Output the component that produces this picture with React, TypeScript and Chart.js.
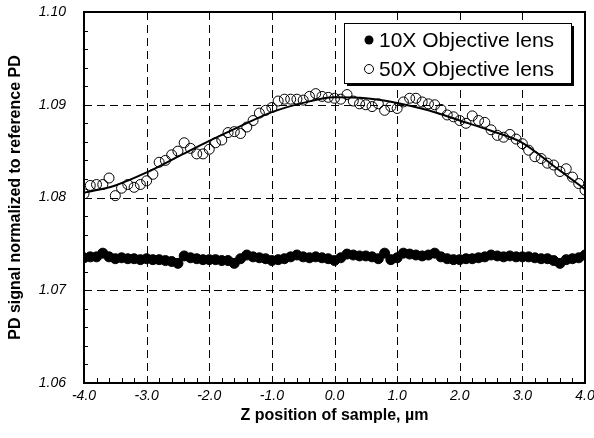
import React, { useEffect, useRef } from "react";
import { Chart, registerables } from "chart.js";

Chart.register(...registerables);

// Z positions of the sample (µm)
const zPositions = [
  -4.0, -3.9, -3.8, -3.7, -3.6, -3.5, -3.4, -3.3, -3.2, -3.1,
  -3.0, -2.9, -2.8, -2.7, -2.6, -2.5, -2.4, -2.3, -2.2, -2.1,
  -2.0, -1.9, -1.8, -1.7, -1.6, -1.5, -1.4, -1.3, -1.2, -1.1,
  -1.0, -0.9, -0.8, -0.7, -0.6, -0.5, -0.4, -0.3, -0.2, -0.1,
  0.0, 0.1, 0.2, 0.3, 0.4, 0.5, 0.6, 0.7, 0.8, 0.9,
  1.0, 1.1, 1.2, 1.3, 1.4, 1.5, 1.6, 1.7, 1.8, 1.9,
  2.0, 2.1, 2.2, 2.3, 2.4, 2.5, 2.6, 2.7, 2.8, 2.9,
  3.0, 3.1, 3.2, 3.3, 3.4, 3.5, 3.6, 3.7, 3.8, 3.9,
  4.0,
];

// 10X objective lens (filled circles)
const lens10X = [
  1.0735, 1.0736, 1.0736, 1.0740, 1.0736, 1.0734, 1.0735, 1.0734, 1.0734, 1.0733,
  1.0734, 1.0733, 1.0733, 1.0732, 1.0731, 1.0729, 1.0737, 1.0735, 1.0734, 1.0733,
  1.0733, 1.0733, 1.0732, 1.0732, 1.0729, 1.0734, 1.0738, 1.0736, 1.0735, 1.0734,
  1.0732, 1.0733, 1.0734, 1.0736, 1.0738, 1.0736, 1.0735, 1.0736, 1.0735, 1.0734,
  1.0732, 1.0735, 1.0739, 1.0738, 1.0737, 1.0737, 1.0736, 1.0734, 1.0740, 1.0733,
  1.0735, 1.0740, 1.0739, 1.0738, 1.0737, 1.0738, 1.0740, 1.0736, 1.0734, 1.0733,
  1.0733, 1.0734, 1.0734, 1.0735, 1.0736, 1.0738, 1.0737, 1.0736, 1.0737, 1.0736,
  1.0736, 1.0736, 1.0735, 1.0734, 1.0734, 1.0732, 1.0729, 1.0733, 1.0734, 1.0735,
  1.0738,
];

// 50X objective lens (open circles)
const lens50X = [
  1.0804, 1.0813, 1.0814, 1.0814, 1.0821, 1.0802, 1.0810, 1.0814, 1.0811, 1.0814,
  1.0818, 1.0825, 1.0838, 1.0840, 1.0846, 1.0850, 1.0859, 1.0853, 1.0847, 1.0847,
  1.0852, 1.0859, 1.0862, 1.0870, 1.0871, 1.0869, 1.0876, 1.0883, 1.0891, 1.0894,
  1.0897, 1.0904, 1.0906, 1.0906, 1.0906, 1.0905, 1.0909, 1.0912, 1.0909, 1.0908,
  1.0907, 1.0906, 1.0911, 1.0904, 1.0901, 1.0900, 1.0898, 1.0901, 1.0894, 1.0898,
  1.0896, 1.0903, 1.0907, 1.0907, 1.0903, 1.0901, 1.0900, 1.0895, 1.0889, 1.0887,
  1.0883, 1.0880, 1.0888, 1.0883, 1.0881, 1.0873, 1.0867, 1.0865, 1.0868, 1.0863,
  1.0858, 1.0851, 1.0844, 1.0842, 1.0837, 1.0835, 1.0828, 1.0831, 1.0822, 1.0815,
  1.0808,
];

// Fitted curve through the 50X data
const fitZ = [-4.0, -3.5, -3.0, -2.5, -2.0, -1.5, -1.0, -0.5, 0.0, 0.5, 1.0, 1.5, 2.0, 2.5, 3.0, 3.5, 4.0];
const fit50X = [
  1.0805, 1.0813, 1.0827, 1.0844, 1.0861, 1.0877, 1.0892, 1.0902, 1.0908,
  1.0907, 1.0902, 1.0894, 1.0883, 1.0872, 1.0859, 1.0834, 1.0809,
];

const xTicks = [-4, -3, -2, -1, 0, 1, 2, 3, 4];
const yTicks = [1.06, 1.07, 1.08, 1.09, 1.1];
const legendLabels = ["10X Objective lens", "50X Objective lens"];

const FONT = "'Liberation Sans', Arial, Helvetica, sans-serif";

const framePlugin = {
  id: "framePlugin",
  beforeDatasetsDraw(chart: any) {
    const { ctx, chartArea: a, scales } = chart;
    const xs = scales.x;
    const ys = scales.y;
    ctx.save();
    ctx.strokeStyle = "#000";
    ctx.lineWidth = 1;
    ctx.setLineDash([8, 5]);
    xTicks.slice(1, -1).forEach((v) => {
      const px = Math.round(xs.getPixelForValue(v)) + 0.5;
      ctx.beginPath();
      ctx.moveTo(px, a.top);
      ctx.lineTo(px, a.bottom);
      ctx.stroke();
    });
    yTicks.slice(1, -1).forEach((v) => {
      const py = Math.round(ys.getPixelForValue(v)) + 0.5;
      ctx.beginPath();
      ctx.moveTo(a.left, py);
      ctx.lineTo(a.right, py);
      ctx.stroke();
    });
    ctx.restore();
  },
  afterDatasetsDraw(chart: any) {
    const { ctx, chartArea: a, scales } = chart;
    const xs = scales.x;
    const ys = scales.y;
    ctx.save();
    ctx.setLineDash([]);
    ctx.strokeStyle = "#000";
    ctx.lineWidth = 1;
    for (let i = 0; i <= 40; i++) {
      const v = -4 + i * 0.2;
      const px = Math.round(xs.getPixelForValue(v)) + 0.5;
      ctx.beginPath();
      ctx.moveTo(px, a.bottom);
      ctx.lineTo(px, a.bottom - 5);
      ctx.stroke();
    }
    for (let i = 0; i <= 20; i++) {
      const v = 1.06 + i * 0.002;
      const py = Math.round(ys.getPixelForValue(v)) + 0.5;
      ctx.beginPath();
      ctx.moveTo(a.left, py);
      ctx.lineTo(a.left + 4, py);
      ctx.stroke();
    }
    ctx.lineWidth = 2;
    ctx.strokeRect(a.left, a.top, a.right - a.left, a.bottom - a.top);

    // legend
    const bx = 344, by = 23, bw = 227, bh = 60;
    ctx.fillStyle = "#000";
    ctx.fillRect(bx + 3, by + 3, bw, bh);
    ctx.fillStyle = "#fff";
    ctx.fillRect(bx, by, bw, bh);
    ctx.lineWidth = 1;
    ctx.strokeRect(bx + 0.5, by + 0.5, bw, bh);
    ctx.font = `21px ${FONT}`;
    ctx.textBaseline = "middle";
    ctx.textAlign = "left";
    ctx.fillStyle = "#000";
    const rows = [by + 17, by + 46];
    ctx.beginPath();
    ctx.arc(369, rows[0], 4.5, 0, Math.PI * 2);
    ctx.fill();
    ctx.fillText(legendLabels[0], 379, rows[0] + 1);
    ctx.beginPath();
    ctx.arc(369, rows[1], 4.5, 0, Math.PI * 2);
    ctx.fillStyle = "#fff";
    ctx.fill();
    ctx.stroke();
    ctx.fillStyle = "#000";
    ctx.fillText(legendLabels[1], 379, rows[1] + 1);
    ctx.restore();
  },
};

export default function App() {
  const canvasRef = useRef<HTMLCanvasElement | null>(null);

  useEffect(() => {
    if (!canvasRef.current) return;
    const pts10 = zPositions.map((z, i) => ({ x: z, y: lens10X[i] }));
    const pts50 = zPositions.map((z, i) => ({ x: z, y: lens50X[i] }));
    const ptsFit = fitZ.map((z, i) => ({ x: z, y: fit50X[i] }));

    const chart = new Chart(canvasRef.current, {
      type: "line",
      data: {
        datasets: [
          {
            label: "fit",
            data: ptsFit,
            borderColor: "#000",
            borderWidth: 2,
            pointRadius: 0,
            cubicInterpolationMode: "monotone",
            fill: false,
            order: 0,
          },
          {
            label: legendLabels[1],
            data: pts50,
            showLine: false,
            pointRadius: 5,
            pointBorderWidth: 1,
            pointBorderColor: "#000",
            pointBackgroundColor: "rgba(255,255,255,0)",
            order: 1,
          },
          {
            label: legendLabels[0],
            data: pts10,
            showLine: false,
            pointRadius: 5,
            pointBorderWidth: 1,
            pointBorderColor: "#000",
            pointBackgroundColor: "#000",
            order: 2,
          },
        ],
      },
      options: {
        animation: false,
        responsive: true,
        maintainAspectRatio: false,
        layout: { padding: { top: 12, right: 9, left: 0, bottom: 0 } },
        plugins: {
          legend: { display: false },
          tooltip: { enabled: false },
        },
        scales: {
          x: {
            type: "linear",
            min: -4,
            max: 4,
            afterBuildTicks: (s: any) => {
              s.ticks = xTicks.map((v) => ({ value: v }));
            },
            ticks: {
              callback: (v: any) => Number(v).toFixed(1),
              font: { family: FONT, size: 14, style: "italic" },
              color: "#000",
              padding: 5,
              maxRotation: 0,
              autoSkip: false,
            },
            grid: { display: false, drawTicks: false },
            border: { display: false },
            title: {
              display: true,
              text: "Z position of sample, µm",
              font: { family: FONT, size: 16, weight: "bold" },
              color: "#000",
              padding: { top: 0, bottom: 13 },
            },
            afterFit: (s: any) => {
              s.height = 55;
              s.paddingLeft = 0;
              s.paddingRight = 0;
            },
          },
          y: {
            type: "linear",
            min: 1.06,
            max: 1.1,
            afterBuildTicks: (s: any) => {
              s.ticks = yTicks.map((v) => ({ value: v }));
            },
            ticks: {
              callback: (v: any) => Number(v).toFixed(2),
              font: { family: FONT, size: 14, style: "italic" },
              color: "#000",
              padding: 18,
              autoSkip: false,
            },
            grid: { display: false, drawTicks: false },
            border: { display: false },
            title: {
              display: true,
              text: "PD signal normalized to reference PD",
              font: { family: FONT, size: 16, weight: "bold" },
              color: "#000",
              padding: { top: 6, bottom: 0 },
            },
            afterFit: (s: any) => {
              s.width = 84;
              s.paddingTop = 0;
              s.paddingBottom = 0;
            },
          },
        },
      },
      plugins: [framePlugin],
    });
    return () => chart.destroy();
  }, []);

  return (
    <div style={{ position: "absolute", left: 0, top: 0, width: 594, height: 438, background: "#fff" }}>
      <canvas ref={canvasRef} />
    </div>
  );
}
